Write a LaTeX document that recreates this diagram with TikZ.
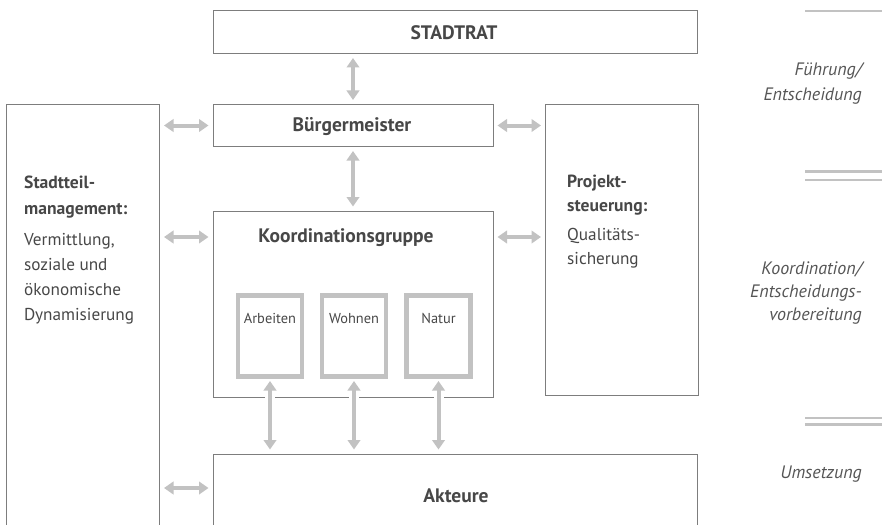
\documentclass[tikz,border=0pt]{standalone}
\usepackage{fontspec}
\setmainfont{PT Sans}
\usetikzlibrary{arrows.meta,calc}
\definecolor{txt}{HTML}{474747}
\definecolor{sidetxt}{HTML}{555555}
\definecolor{frame}{HTML}{7D7D7D}
\definecolor{arr}{HTML}{C2C2C2}
\begin{document}
\begin{tikzpicture}[x=1pt,y=-1pt,
  box/.style={draw=frame,line width=0.9pt,inner sep=0pt,outer sep=0pt,anchor=north west},
  inbox/.style={draw=arr,line width=4.5pt,inner sep=0pt,outer sep=0pt,anchor=north west,minimum width=64pt,minimum height=81pt},
  head/.style={text=txt,font=\fontsize{19.5}{22}\selectfont\bfseries,inner sep=0pt,anchor=base},
  lbold/.style={text=txt,font=\fontsize{17.6}{20}\selectfont\bfseries,inner sep=0pt,anchor=base west},
  lreg/.style={text=txt,font=\fontsize{17.2}{20}\selectfont,inner sep=0pt,anchor=base west},
  small/.style={text=txt,font=\fontsize{14.4}{16}\selectfont,inner sep=0pt,anchor=base},
  side/.style={text=sidetxt,font=\fontsize{18}{20}\selectfont\itshape,inner sep=0pt,anchor=base east},
  sep/.style={draw=arr,line width=2.2pt},
  dbl/.style={draw=arr,line width=4pt,{Triangle[width=12.5pt,length=9.5pt]}-{Triangle[width=12.5pt,length=9.5pt]},
    shorten <=4.5pt,shorten >=4.5pt},
  dblw/.style={dbl,preaction={draw=white,line width=10pt,-,shorten <=4.5pt,shorten >=4.5pt}}
]
\useasboundingbox (0,0) rectangle (882,524);
% boxes
\node[box,minimum width=484pt,minimum height=43pt] (stadtrat) at (213,10.5) {};
\node[box,minimum width=280pt,minimum height=42pt] (buerg) at (213,104.5) {};
\node[box,minimum width=153pt,minimum height=440pt] (left) at (6.5,104.5) {};
\node[box,minimum width=153pt,minimum height=291pt] (proj) at (545.5,104.5) {};
\node[box,minimum width=280pt,minimum height=186.5pt] (koord) at (213,211) {};
\node[box,minimum width=484pt,minimum height=100pt] (akt) at (213,454) {};
% inner boxes
\node[inbox] (arb) at (238,295.5) {};
\node[inbox] (wohn) at (322,295.5) {};
\node[inbox] (natur) at (406.5,295.5) {};
% box texts
\node[head] (t-stadtrat) at (454,39.5) {STADTRAT};
\node[head] (t-buerg) at (352,131.5) {Bürgermeister};
\node[head] (t-koord) at (346,242) {Koordinationsgruppe};
\node[head] (t-akt) at (456,502.5) {Akteure};
\node[small] (t-arb) at (arb.center |- 0,323) {Arbeiten};
\node[small] (t-wohn) at (wohn.center |- 0,323) {Wohnen};
\node[small] (t-natur) at (natur.center |- 0,323) {Natur};
% left text
\node[lbold] (l1) at (24,188.5) {Stadtteil-};
\node[lbold] (l2) at (24,214) {management:};
\node[lreg] (l3) at (24,245) {Vermittlung,};
\node[lreg] (l4) at (24,270) {soziale und};
\node[lreg] (l5) at (24,295) {ökonomische};
\node[lreg] (l6) at (24,320) {Dynamisierung};
% right box text
\node[lbold] (p1) at (567,187) {Projekt-};
\node[lbold] (p2) at (567,211) {steuerung:};
\node[lreg] (p3) at (567,240) {Qualitäts-};
\node[lreg] (p4) at (567,264.5) {sicherung};
% side labels
\node[side] (s1) at (862,76) {Führung/};
\node[side] (s2) at (862,100) {Entscheidung};
\node[side] (s3) at (862,274) {Koordination/};
\node[side] (s4) at (862,297) {Entscheidungs-};
\node[side] (s5) at (862,320) {vorbereitung};
\node[side] (s6) at (862,478) {Umsetzung};
% separators
\coordinate (sa1) at (805,11); \coordinate (sb1) at (882,11);
\coordinate (sa2) at (805,171.5); \coordinate (sb2) at (882,171.5);
\coordinate (sa3) at (805,180); \coordinate (sb3) at (882,180);
\coordinate (sa4) at (805,418); \coordinate (sb4) at (882,418);
\coordinate (sa5) at (805,424.5); \coordinate (sb5) at (882,424.5);
\foreach \i in {1,...,5} \draw[sep] (sa\i) -- (sb\i);
% connectors
\draw[dbl] (stadtrat.south -| buerg.north) -- (buerg.north);
\draw[dbl] (buerg.south) -- (buerg.south |- koord.north);
\draw[dbl] (left.east |- buerg.west) -- (buerg.west);
\draw[dbl] (buerg.east) -- (buerg.east -| proj.west);
\coordinate (kl) at ([yshift=-26pt]koord.north west);
\coordinate (kr) at ([yshift=-26pt]koord.north east);
\draw[dbl] (left.east |- kl) -- (kl);
\draw[dbl] (kr) -- (kr -| proj.west);
\coordinate (al) at ([yshift=-34pt]akt.north west);
\draw[dbl] (left.east |- al) -- (al);
\draw[dblw] (arb.south) -- (arb.south |- akt.north);
\draw[dblw] (wohn.south) -- (wohn.south |- akt.north);
\draw[dblw] (natur.south) -- (natur.south |- akt.north);
\end{tikzpicture}
\end{document}
